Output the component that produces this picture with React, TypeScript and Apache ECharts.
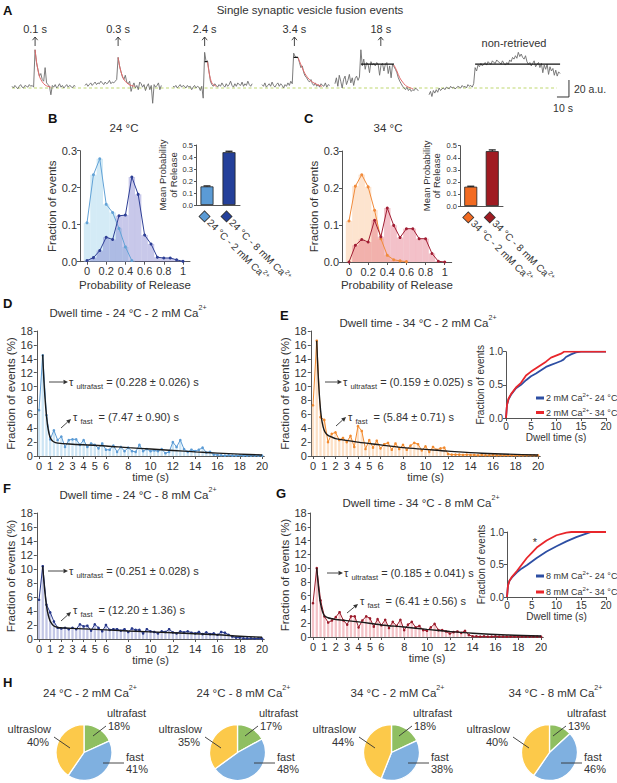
import React, { useEffect, useRef } from "react";
import * as echarts from "echarts";

const FONT = '"Liberation Sans", Arial, Helvetica, sans-serif';
const TXT = "#333333";
const AXC = "#555555";

// ================= Panel A : traces (a.u. relative to baseline) =================
const traceDt = 1.2; // s between samples
const traceStarts = [1.67, 62.5, 135.8, 210, 270.8, 349.2];
const trace1 = [2, 0, 3, 1, -1, 2, 4, 1, 0, 3, 2, 1, 4, 2, 3, 1, 45, 30, 22, 14, 17, 10, 8, 24, 6, 4, 2, -8, 3, 1, 4, 0, 2, 5, 1, 3, 0, 2, 4, 1, 3, 2, 0, 3, 2];
const trace2 = [3, 5, 2, 4, 6, 3, 5, 7, 4, 6, 5, 8, 6, 4, 7, 5, 6, 9, 5, 7, 6, 8, 10, 36, 26, 19, 13, 10, 15, 7, 5, 8, -4, 2, 6, 0, 3, -2, 7, 5, 1, 4, -3, 2, 5, -2, 3, -18, 4, 1, 3, 6, -2, 3];
const trace3 = [2, 1, 3, 0, 2, 4, 1, 3, 2, 0, 3, 1, 2, -2, 1, 3, 0, 2, 1, -3, 2, -12, 42, 31, 32, 20, 8, 4, 2, 5, 3, 1, 4, 2, 6, 3, 1, 5, 2, 4, 8, 3, 1, 5, 2, 6, 4, 3, 7, 2, 5, 3, 8, 4, 2, 5];
const trace4 = [4, 2, 6, 1, 3, 5, 2, 7, 3, 1, 4, 6, 2, 5, 3, 0, 4, 2, 6, 3, 8, 5, 41, 37, 36, 36, 30, 24, 26, 18, 14, 12, 9, 7, 10, 5, 3, 6, 2, 4, 1, 5, 3, 2, 6, 1, 4, 3];
const trace5 = [5, 12, 2, 15, 8, 0, 10, 14, 4, 9, 16, 6, 12, 3, 11, 14, 9, 13, 45, 26, 34, 22, 30, 28, 18, 31, 27, 29, 26, 30, 28, 15, 27, 29, 20, 28, 30, 17, 26, 12, 28, 25, 22, 18, 12, 8, 5, 2, 0, -2, 1, -3, -1, -4, -2, -3, 0, -2, -3];
const trace6 = [-8, -4, -10, -3, -6, -2, -5, 0, -3, -1, 0, -2, 1, 0, -1, 2, 0, 1, -1, 0, 2, 1, 0, 3, 1, 2, 0, 4, 2, 3, 1, 5,
  24, 20, 27, 25, 29, 26, 28, 30, 27, 31, 29, 28, 32, 30, 29, 33, 31, 30, 28, 32, 29, 27, 30, 28,
  33, 31, 36, 34, 38, 35, 42, 37, 40, 36, 34, 38,
  31, 28, 30, 26, 29, 32, 25, 28, 30, 24, 29, 18, 27, 22, 28, 16, 25, 20, 23, 15, 21, 14, 19, 17];
const traces = [trace1, trace2, trace3, trace4, trace5, trace6];
const fitA1 = [[20.9, 45], [22.1, 31], [23.3, 21], [24.5, 14], [25.7, 10], [28.1, 5], [30.5, 2.5], [34, 1]];
const fitA2 = [[90.1, 36], [91.3, 26], [92.5, 19], [93.7, 14], [95, 10], [97.3, 6], [100, 3.5], [104, 2]];
const fitA3 = [[164.6, 31], [165.8, 19], [167, 11], [168.2, 6], [169.4, 4], [172, 2]];
const fitA4 = [[239.9, 36], [242.3, 28], [244.7, 20], [247.1, 14], [249.5, 10], [252, 7], [256, 4], [260, 2]];
const fitA5 = [[320, 27], [322.4, 20], [324.8, 12], [327.2, 7], [329.6, 3], [332, 1], [336, -1]];
const fitsA = [fitA1, fitA2, fitA3, fitA4, fitA5];
const plateausA = [[162.2, 164.6, 31], [236.4, 239.9, 36], [292.4, 320, 28], [387.6, 458.4, 28]];
const eventLabels = ["0.1 s", "0.3 s", "2.4 s", "3.4 s", "18 s"];
const eventTimes = [20.9, 90.1, 162.2, 237, 309];
const nonRetrievedTime = 420;
const baselineSpan = [1.67, 455.8];
const scaleBarT = 465.8;
const scaleBarAU = 20;
const scaleBarS = 10;
const scaleBarY0 = -10.6;

// ================= Panels B / C =================
const probBins = [0, 0.067, 0.133, 0.2, 0.267, 0.333, 0.4, 0.467, 0.533, 0.6, 0.667, 0.733, 0.8, 0.867, 0.933, 1];
const probTicks = [0, 0.2, 0.4, 0.6, 0.8, 1];
const pr24_2 = [0.105, 0.235, 0.278, 0.155, 0.133, 0.09, 0.04, 0.003];
const pr24_8 = [0.003, 0.011, 0.03, 0.066, 0.06, 0.124, 0.126, 0.229, 0.182, 0.072, 0.048, 0.012, 0.01, 0.01, 0.005, 0.001];
const pr34_2 = [0.111, 0.205, 0.236, 0.203, 0.14, 0.063, 0.018, 0.006, 0.003, 0.001];
const pr34_8 = [0, 0.045, 0.061, 0.054, 0.113, 0.068, 0.146, 0.099, 0.066, 0.09, 0.09, 0.063, 0.063, 0.023, 0.002, 0];
const cat24 = ["24 °C - 2 mM Ca2+", "24 °C - 8 mM Ca2+"];
const cat34 = ["34 °C - 2 mM Ca2+", "34 °C - 8 mM Ca2+"];
const meanPr24 = [0.155, 0.44];
const errPr24 = [0.004, 0.008];
const meanPr34 = [0.16, 0.455];
const errPr34 = [0.004, 0.01];

// ================= Panels D–G : dwell time histograms (%) =================
const dwellBin = 1 / 3; // s
const dwellTicks = [0, 1, 2, 3, 4, 5, 6, 8, 10, 12, 14, 16, 18, 20];
const dwellD = [6.6, 14.5, 5.9, 2.4, 3.7, 2.3, 2.8, 1.3, 2.3, 2.4, 2.4, 1.6, 2.3, 1.3, 1.8, 1.6, 1.1, 1.8, 0.9, 0.9, 1.5, 0.6, 1.3, 0.7, 1.2, 0.7, 0.6, 1.6, 0.7, 1.0, 0.7, 0.8, 0.7, 1.0, 0.4, 0.6, 2.0, 1.3, 2.3, 1.0, 0.6, 0.9, 0.7, 0.9, 1.2, 0.5, 0.6, 0.2, 0.15, 0.1, 0.05, 0.1, 0.05, 0.05, 0.1, 0.05, 0.05, 0.05, 0.05, 0.05, 0.05];
const dwellE = [7.3, 16.6, 5.6, 5.2, 2.0, 3.2, 3.4, 2.3, 2.6, 2.0, 2.9, 1.3, 4.3, 3.6, 1.0, 2.3, 1.2, 2.2, 1.1, 1.7, 1.9, 0.9, 1.8, 1.0, 1.6, 0.9, 1.5, 1.9, 1.7, 0.8, 1.4, 0.6, 1.3, 0.9, 1.1, 1.2, 0.3, 0.2, 0.2, 0.2, 0.15, 0.2, 0.15, 0.15, 0.1, 0.15, 0.1, 0.1, 0.15, 0.1, 0.1, 0.1, 0.1, 0.1, 0.1, 0.1, 0.1, 0.1, 0.1, 0.1, 0.1];
const dwellF = [5.6, 10.4, 4.9, 3.8, 2.5, 1.6, 1.5, 1.6, 1.4, 1.6, 1.4, 2.1, 1.8, 1.9, 1.2, 2.1, 1.6, 1.1, 2.0, 1.3, 1.4, 1.4, 1.2, 1.4, 1.0, 1.5, 1.3, 1.3, 0.8, 1.4, 1.1, 1.0, 0.8, 1.1, 1.0, 1.4, 0.95, 0.8, 1.1, 0.95, 1.1, 0.9, 0.8, 1.0, 0.7, 0.95, 0.7, 0.8, 0.6, 1.0, 0.9, 0.6, 0.35, 0.2, 0.2, 0.1, 0.1, 0.1, 0.05, 0.1, 0.05];
const dwellG = [4.9, 10.0, 5.3, 3.0, 2.1, 2.4, 2.9, 3.6, 2.4, 1.8, 3.0, 3.0, 1.4, 2.4, 3.0, 2.7, 1.5, 2.6, 1.7, 2.5, 1.3, 2.2, 1.6, 2.5, 1.0, 1.8, 2.2, 1.4, 1.6, 1.0, 0.9, 1.4, 1.9, 1.0, 1.0, 0.8, 0.5, 0.7, 0.8, 0.6, 0.9, 0.3, 0.1, 0.1, 0.05, 0.1, 0.05, 0.05, 0.1, 0.05, 0.05, 0.05, 0.05, 0.05, 0.05, 0.05, 0.05, 0.05, 0.05, 0.05, 0.05];
const fitD = [[0.33, 14.6], [0.45, 10.5], [0.6, 7], [0.75, 4.6], [0.9, 3.2], [1.05, 2.5], [1.3, 2.05], [1.7, 1.85], [3, 1.7], [6, 1.45], [8, 1.2], [10, 1.0], [12, 0.8], [14, 0.6], [16, 0.42], [18, 0.27], [20, 0.15]];
const fitE = [[0.33, 16.6], [0.45, 12], [0.6, 8], [0.75, 5.5], [0.9, 4.2], [1.05, 3.5], [1.3, 3.0], [1.7, 2.7], [2, 2.5], [4, 2.0], [6, 1.6], [8, 1.2], [10, 0.95], [12, 0.7], [15, 0.4], [20, 0.15]];
const fitF = [[0.33, 10.4], [0.45, 8], [0.6, 5.6], [0.75, 4], [0.9, 3], [1.05, 2.4], [1.3, 1.9], [1.7, 1.65], [2, 1.6], [4, 1.45], [8, 1.15], [12, 0.9], [16, 0.6], [18, 0.4], [20, 0.25]];
const fitG = [[0.33, 10], [0.45, 7.8], [0.6, 5.5], [0.75, 4.2], [0.9, 3.4], [1.05, 3.0], [1.3, 2.8], [1.7, 2.65], [2, 2.55], [4, 2.2], [6, 1.75], [8, 1.45], [10, 1.1], [12, 0.8], [14, 0.55], [17, 0.3], [20, 0.15]];
const tauUltra = [0.228, 0.159, 0.251, 0.185];
const tauUltraErr = [0.026, 0.025, 0.028, 0.041];
const tauFast = [7.47, 5.84, 12.2, 6.41];
const tauFastErr = [0.9, 0.71, 1.36, 0.56];
const dwellTitles = ["Dwell time - 24 °C - 2 mM Ca2+", "Dwell time - 34 °C - 2 mM Ca2+", "Dwell time - 24 °C - 8 mM Ca2+", "Dwell time - 34 °C - 8 mM Ca2+"];

// cumulative insets
const cumE24 = [[0, 0], [0.2, 0.2], [0.5, 0.28], [1, 0.35], [2, 0.45], [3, 0.5], [4, 0.57], [5, 0.63], [6, 0.67], [7, 0.72], [8, 0.77], [9, 0.8], [10, 0.83], [11, 0.86], [11.5, 0.88], [12, 0.92], [13, 0.96], [14, 0.99], [15, 1], [20, 1]];
const cumE34 = [[0, 0], [0.2, 0.2], [0.5, 0.29], [1, 0.36], [2, 0.46], [3, 0.53], [4, 0.64], [5, 0.7], [6, 0.75], [7, 0.8], [8, 0.85], [9, 0.91], [10, 0.94], [11, 0.97], [11.6, 1], [20, 1]];
const cumG24 = [[0, 0], [0.2, 0.18], [0.5, 0.25], [1, 0.3], [2, 0.38], [3, 0.44], [4, 0.49], [6, 0.6], [8, 0.7], [10, 0.78], [12, 0.855], [14, 0.92], [16, 0.975], [17, 1], [20, 1]];
const cumG34 = [[0, 0], [0.2, 0.18], [0.5, 0.25], [1, 0.31], [2, 0.4], [3, 0.5], [4, 0.6], [5, 0.68], [6, 0.76], [8, 0.87], [10, 0.95], [12, 0.99], [13, 1], [20, 1]];
const legE = ["2 mM Ca2+- 24 °C", "2 mM Ca2+- 34 °C"];
const legG = ["8 mM Ca2+- 24 °C", "8 mM Ca2+- 34 °C"];

// ================= Panel H : pies =================
const pieTitles = ["24 °C - 2 mM Ca2+", "24 °C - 8 mM Ca2+", "34 °C - 2 mM Ca2+", "34 °C - 8 mM Ca2+"];
const pieNames = ["ultrafast", "fast", "ultraslow"];
const pieUltrafast = [18, 17, 18, 13];
const pieFast = [41, 48, 38, 46];
const pieUltraslow = [40, 35, 44, 40];

// layout of the pies (pixels)
const pieCx = [84, 237.5, 391.5, 549.5];
const pieCy = 752.5;
const pieR = 28;
const slowR = [51, 202, 356, 510];
const ufL = [107, 259, 413, 567];
const fL = [126, 277, 431, 584];

const supify = (s: string) => s.replace("2+", "{s|2+}");

function buildOption() {
  const G: any[] = [];
  const text = (x: number, y: number, t: string, o: any = {}) =>
    G.push({ type: "text", x, y, silent: true, z: 100, style: { text: t, fill: TXT, fontFamily: FONT, fontSize: 11, align: "left", verticalAlign: "middle", ...o } });
  const supRich = (fs: number) => ({ s: { fontSize: fs * 0.62, fontFamily: FONT, fill: TXT, color: TXT, verticalAlign: "top", lineHeight: fs * 0.72 } });
  const supText = (x: number, y: number, t: string, fs: number, align = "center") =>
    text(x, y, supify(t), { fontSize: fs, align, lineHeight: fs * 1.45, rich: supRich(fs) });
  const line = (x1: number, y1: number, x2: number, y2: number, w = 0.9) =>
    G.push({ type: "line", silent: true, z: 100, shape: { x1, y1, x2, y2 }, style: { stroke: TXT, lineWidth: w } });
  const arrow = (x1: number, y1: number, x2: number, y2: number) => {
    const a = Math.atan2(y2 - y1, x2 - x1);
    const h = 4.5, w = 2.2;
    const bx = x2 - h * Math.cos(a), by = y2 - h * Math.sin(a);
    line(x1, y1, bx, by, 0.9);
    G.push({ type: "polygon", silent: true, z: 100, shape: { points: [[x2, y2], [bx - w * Math.sin(a), by + w * Math.cos(a)], [bx + w * Math.sin(a), by - w * Math.cos(a)]] }, style: { fill: TXT } });
  };
  const upArrow = (x: number, yBottom: number, yTop: number) => {
    line(x, yBottom, x, yTop, 0.9);
    G.push({ type: "polyline", silent: true, z: 100, shape: { points: [[x - 2.6, yTop + 3.2], [x, yTop], [x + 2.6, yTop + 3.2]] }, style: { stroke: TXT, lineWidth: 0.9, fill: null } });
  };
  const letter = (x: number, y: number, t: string) => text(x, y, t, { fontSize: 13, fontWeight: "bold", fill: "#111" });

  // ----- grids -----
  const grids = [
    { left: 10, top: 35, width: 570, height: 80 }, // 0 A
    { left: 80, top: 150.7, width: 110, height: 111 }, // 1 B
    { left: 196, top: 145, width: 44, height: 60 }, // 2 B inset
    { left: 342, top: 151, width: 109.7, height: 111 }, // 3 C
    { left: 460, top: 145.7, width: 43, height: 60.3 }, // 4 C inset
    { left: 36.8, top: 331, width: 227.5, height: 125 }, // 5 D
    { left: 310.75, top: 331, width: 229.5, height: 125 }, // 6 E
    { left: 506, top: 351.7, width: 100, height: 66.3 }, // 7 E inset
    { left: 36.8, top: 513, width: 227.5, height: 126 }, // 8 F
    { left: 310.7, top: 513, width: 232.6, height: 124 }, // 9 G
    { left: 507, top: 532, width: 99, height: 65 }, // 10 G inset
  ];
  const aLine = { show: true, onZero: false, lineStyle: { color: AXC, width: 1 } };
  const aTick = { show: true, length: 3, lineStyle: { color: AXC, width: 1 } };
  const lab = (fs: number, extra: any = {}) => ({ color: TXT, fontFamily: FONT, fontSize: fs, ...extra });
  const nameStyle = (fs: number) => ({ color: TXT, fontFamily: FONT, fontSize: fs });

  const xAxis: any[] = [];
  const yAxis: any[] = [];
  // A
  xAxis.push({ gridIndex: 0, type: "value", min: 0, max: 475, show: false });
  yAxis.push({ gridIndex: 0, type: "value", min: -31.8, max: 62.4, show: false });
  // B, C main
  const probX = (gi: number) => ({
    gridIndex: gi, type: "value", min: -0.073, max: 1.073, splitLine: { show: false }, axisLine: aLine,
    axisTick: { ...aTick, customValues: probTicks },
    axisLabel: lab(11, { margin: 4, customValues: probTicks, formatter: (v: number) => (v === 0 || v === 1 ? String(v) : v.toFixed(1)) }),
    name: "Probability of Release", nameLocation: "middle", nameGap: 17, nameTextStyle: nameStyle(11.5),
  });
  const probY = (gi: number, gap: number) => ({
    gridIndex: gi, type: "value", min: 0, max: 0.3, interval: 0.1, splitLine: { show: false }, axisLine: aLine, axisTick: aTick,
    axisLabel: lab(11, { margin: 3, formatter: (v: number) => v.toFixed(1) }),
    name: "Fraction of events", nameLocation: "middle", nameGap: gap, nameTextStyle: nameStyle(11.5),
  });
  const insetCatX = (gi: number, cats: string[], colors: string[]) => ({
    gridIndex: gi, type: "category", data: cats, axisLine: aLine, axisTick: { show: false },
    axisLabel: {
      interval: 0, rotate: -45, margin: 4, align: "left", verticalAlign: "top", color: TXT, fontFamily: FONT, fontSize: 10, lineHeight: 14,
      formatter: (v: string, i: number) => `{d${i}|}{t| ${v.replace("2+", "")}}{s|2+}`,
      rich: {
        d0: { width: 7, height: 7, backgroundColor: colors[0], borderColor: "#333", borderWidth: 0.8 },
        d1: { width: 7, height: 7, backgroundColor: colors[1], borderColor: "#333", borderWidth: 0.8 },
        t: { fontSize: 10, fontFamily: FONT, color: TXT, lineHeight: 14 },
        s: { fontSize: 6.5, fontFamily: FONT, color: TXT, verticalAlign: "top", lineHeight: 7 },
      },
    },
  });
  const insetBarY = (gi: number, gap: number) => ({
    gridIndex: gi, type: "value", min: 0, max: 0.5, interval: 0.1, splitLine: { show: false }, axisLine: aLine, axisTick: { ...aTick, length: 2 },
    axisLabel: lab(7.5, { margin: 3, formatter: (v: number) => v.toFixed(1) }),
    name: "Mean Probability\nof Release", nameLocation: "middle", nameGap: gap, nameTextStyle: { ...nameStyle(9.5), lineHeight: 10.5 },
  });
  const col24 = ["#5b9bd5", "#24409a"];
  const col34 = ["#f26b22", "#a01b22"];
  xAxis.push(probX(1)); yAxis.push(probY(1, 21));
  xAxis.push(insetCatX(2, cat24, col24)); yAxis.push(insetBarY(2, 17));
  xAxis.push(probX(3)); yAxis.push(probY(3, 19));
  xAxis.push(insetCatX(4, cat34, col34)); yAxis.push(insetBarY(4, 18));
  // dwell
  const dwellX = (gi: number, gap: number) => ({
    gridIndex: gi, type: "value", min: -0.2, max: 20.2, splitLine: { show: false }, axisLine: aLine,
    axisTick: { ...aTick, customValues: dwellTicks },
    axisLabel: lab(11, { margin: 4, customValues: dwellTicks }),
    name: "time (s)", nameLocation: "middle", nameGap: gap, nameTextStyle: nameStyle(11),
  });
  const dwellY = (gi: number, gap: number) => ({
    gridIndex: gi, type: "value", min: 0, max: 18, interval: 2, splitLine: { show: false }, axisLine: aLine, axisTick: aTick,
    axisLabel: lab(11, { margin: 4 }),
    name: "Fraction of events (%)", nameLocation: "middle", nameGap: gap, nameTextStyle: nameStyle(11.5),
  });
  const cumX = (gi: number) => ({
    gridIndex: gi, type: "value", min: 0, max: 20, interval: 5, splitLine: { show: false }, axisLine: aLine, axisTick: aTick,
    axisLabel: lab(10, { margin: 3 }),
    name: "Dwell time (s)", nameLocation: "middle", nameGap: 14, nameTextStyle: nameStyle(10),
  });
  const cumY = (gi: number) => ({
    gridIndex: gi, type: "value", min: 0, max: 1, interval: 0.5, splitLine: { show: false }, axisLine: aLine, axisTick: aTick,
    axisLabel: lab(10, { margin: 3, formatter: (v: number) => v.toFixed(1) }),
    name: "Fraction of events", nameLocation: "middle", nameGap: 19, nameTextStyle: nameStyle(10),
  });
  xAxis.push(dwellX(5, 13)); yAxis.push(dwellY(5, 17));
  xAxis.push(dwellX(6, 13)); yAxis.push(dwellY(6, 18));
  xAxis.push(cumX(7)); yAxis.push(cumY(7));
  xAxis.push(dwellX(8, 13)); yAxis.push(dwellY(8, 17));
  xAxis.push(dwellX(9, 13)); yAxis.push(dwellY(9, 18));
  xAxis.push(cumX(10)); yAxis.push(cumY(10));

  // ----- series -----
  const series: any[] = [];
  const onGrid = (gi: number) => ({ xAxisIndex: gi, yAxisIndex: gi });

  // A
  series.push({ type: "line", ...onGrid(0), data: [[baselineSpan[0], 0], [baselineSpan[1], 0]], symbol: "none", silent: true, z: 1, lineStyle: { color: "#bfd870", width: 1.2, type: [3, 2.5] } });
  traces.forEach((tr, k) => series.push({ type: "line", ...onGrid(0), data: tr.map((v, i) => [traceStarts[k] + i * traceDt, v]), symbol: "none", silent: true, lineStyle: { color: "#6d6d6d", width: 0.9 } }));
  fitsA.forEach((f) => series.push({ type: "line", ...onGrid(0), data: f, smooth: 0.4, symbol: "none", silent: true, z: 3, lineStyle: { color: "#e46b6b", width: 1 } }));
  plateausA.forEach((p) => series.push({ type: "line", ...onGrid(0), data: [[p[0], p[2]], [p[1], p[2]]], symbol: "none", silent: true, z: 4, lineStyle: { color: "#111", width: 1.2 } }));
  series.push({ type: "line", ...onGrid(0), data: [[scaleBarT - scaleBarS, scaleBarY0], [scaleBarT, scaleBarY0], [scaleBarT, scaleBarY0 + scaleBarAU]], symbol: "none", silent: true, lineStyle: { color: "#333", width: 1 } });

  // B / C histograms
  const histo = (gi: number, vals: number[], fill: string, lineCol: string, z: number) => {
    const d = vals.map((v, i) => [probBins[i], v]);
    series.push({ type: "bar", ...onGrid(gi), data: d, barWidth: 6.4, barGap: "-100%", silent: true, itemStyle: { color: fill }, z: 1 });
    series.push({ type: "line", ...onGrid(gi), data: d, symbol: "circle", symbolSize: 3, silent: true, z, lineStyle: { color: lineCol, width: 1 }, itemStyle: { color: lineCol } });
  };
  histo(1, pr24_2, "rgba(160,210,235,0.45)", "#62a2d6", 3);
  histo(1, pr24_8, "rgba(110,110,200,0.38)", "#2e3f95", 4);
  histo(3, pr34_2, "rgba(250,190,140,0.42)", "#f08a3a", 3);
  histo(3, pr34_8, "rgba(225,100,120,0.4)", "#a01d33", 4);

  const meanBars = (gi: number, means: number[], errs: number[], colors: string[]) => {
    series.push({ type: "bar", ...onGrid(gi), barWidth: 13, silent: true, data: means.map((v, i) => ({ value: v, itemStyle: { color: colors[i], borderColor: "#222", borderWidth: 0.8 } })) });
    series.push({
      type: "custom", ...onGrid(gi), silent: true, z: 5, data: means.map((v, i) => [i, v, errs[i]]),
      renderItem: (params: any, api: any) => {
        const x = api.value(0), m = api.value(1), e = api.value(2);
        const p0 = api.coord([x, m]);
        const p1 = api.coord([x, m + e]);
        return {
          type: "group", children: [
            { type: "line", shape: { x1: p0[0], y1: p0[1], x2: p1[0], y2: p1[1] }, style: { stroke: "#111", lineWidth: 1 } },
            { type: "line", shape: { x1: p1[0] - 3.5, y1: p1[1], x2: p1[0] + 3.5, y2: p1[1] }, style: { stroke: "#111", lineWidth: 1.2 } },
          ],
        };
      },
    });
  };
  meanBars(2, meanPr24, errPr24, col24);
  meanBars(4, meanPr34, errPr34, col34);

  // dwell histograms
  const dwell = (gi: number, vals: number[], fit: number[][], barCol: string, lineCol: string) => {
    const d = vals.map((v, i) => [i * dwellBin, v]);
    series.push({ type: "bar", ...onGrid(gi), data: d, barWidth: 2.3, silent: true, itemStyle: { color: barCol }, z: 1 });
    series.push({ type: "line", ...onGrid(gi), data: d, symbol: "circle", symbolSize: 2.6, silent: true, z: 2, lineStyle: { color: lineCol, width: 1 }, itemStyle: { color: lineCol } });
    series.push({ type: "line", ...onGrid(gi), data: fit, smooth: 0.35, symbol: "none", silent: true, z: 3, lineStyle: { color: "#1a1a1a", width: 1.4 } });
  };
  dwell(5, dwellD, fitD, "#cde5f4", "#5b9bd5");
  dwell(6, dwellE, fitE, "#fde0c6", "#f28a2e");
  dwell(8, dwellF, fitF, "#c3c7e6", "#26378a");
  dwell(9, dwellG, fitG, "#f4c3c8", "#9b1b2b");

  const cum = (gi: number, name: string, data: number[][], col: string) =>
    series.push({ type: "line", ...onGrid(gi), name, data, symbol: "none", silent: true, lineStyle: { color: col, width: 1.8 }, itemStyle: { color: col } });
  cum(7, legE[0], cumE24, "#2d4ea3");
  cum(7, legE[1], cumE34, "#e8262b");
  cum(10, legG[0], cumG24, "#2d4ea3");
  cum(10, legG[1], cumG34, "#e8262b");

  // pies
  const pieColors = ["#8fbf61", "#7fb0e0", "#fcc94a"];
  pieTitles.forEach((_, i) => {
    const vals = [pieUltrafast[i], pieFast[i], pieUltraslow[i]];
    series.push({
      type: "pie", center: [pieCx[i], pieCy], radius: pieR, startAngle: 90, clockwise: true, silent: true,
      label: { show: false }, labelLine: { show: false },
      itemStyle: { borderColor: "#fff", borderWidth: 1.3 },
      data: vals.map((v, k) => ({ value: v, name: pieNames[k], itemStyle: { color: pieColors[k] } })),
    });
  });

  // ----- texts -----
  const ax = (t: number) => 10 + (t * 570) / 475;
  letter(3, 10, "A");
  text(310, 10, "Single synaptic vesicle fusion events", { align: "center", fontSize: 11.5 });
  eventLabels.forEach((l, i) => {
    text(ax(eventTimes[i]), 29, l, { align: "center", fontSize: 11 });
    upArrow(ax(eventTimes[i]), 46, 37);
  });
  text(ax(nonRetrievedTime), 43, "non-retrieved", { align: "center", fontSize: 11 });
  text(ax(scaleBarT) + 5, 89, `${scaleBarAU} a.u.`, { fontSize: 10.5 });
  text(ax(scaleBarT - scaleBarS / 2), 108, `${scaleBarS} s`, { align: "center", fontSize: 10.5 });

  letter(48, 118, "B");
  text(124, 128, "24 °C", { align: "center", fontSize: 11.5 });
  letter(304, 118, "C");
  text(388, 128, "34 °C", { align: "center", fontSize: 11.5 });

  letter(3, 303, "D");
  letter(280, 315, "E");
  letter(3, 488, "F");
  letter(276, 493, "G");
  letter(3, 682, "H");
  const dTitlePos = [[128, 313], [418, 323], [138, 495], [421, 503]];
  dwellTitles.forEach((t, i) => supText(dTitlePos[i][0], dTitlePos[i][1], t, 11.5));

  // tau annotations
  const tauPos = [
    { ua: [49, 68, 382], ut: 69, fa: [61, 428, 71, 419], ft: [73, 417] },
    { ua: [325, 342, 382], ut: 343, fa: [336, 426, 346, 417], ft: [348, 417] },
    { ua: [48, 68, 571], ut: 69, fa: [61, 621, 71, 612], ft: [73, 610] },
    { ua: [327, 343, 573], ut: 344, fa: [347, 613, 358, 604], ft: [360, 601] },
  ];
  const subRich = { sub: { fontSize: 7.5, fontFamily: FONT, fill: TXT, color: TXT, verticalAlign: "bottom", lineHeight: 9 } };
  tauPos.forEach((p, i) => {
    arrow(p.ua[0], p.ua[2], p.ua[1], p.ua[2]);
    text(p.ut, p.ua[2], `τ {sub|ultrafast} = (${tauUltra[i].toFixed(3)} ± ${tauUltraErr[i].toFixed(3)}) s`, { fontSize: 11, lineHeight: 16, rich: subRich });
    arrow(p.fa[0], p.fa[1], p.fa[2], p.fa[3]);
    text(p.ft[0], p.ft[1], `τ {sub|fast}  = (${tauFast[i].toFixed(2)} ± ${tauFastErr[i].toFixed(2)}) s`, { fontSize: 11, lineHeight: 16, rich: subRich });
  });
  text(535, 542, "*", { align: "center", fontSize: 11 });

  // pies
  pieTitles.forEach((t, i) => {
    supText(pieCx[i] + 6, 693, t, 11.5);
    text(slowR[i], 729, "ultraslow", { align: "right" });
    text(slowR[i] - 2, 742, `${pieUltraslow[i]}%`, { align: "right" });
    line(slowR[i] + 3, 737, slowR[i] + 19, 748);
    text(ufL[i], 713, "ultrafast");
    text(ufL[i] + 1, 726, `${pieUltrafast[i]}%`);
    line(ufL[i] - 1, 726, ufL[i] - 14, 736);
    text(fL[i], 757, "fast");
    text(fL[i], 769, `${pieFast[i]}%`);
    line(fL[i] - 2, 763, fL[i] - 23, 763);
  });

  const legend = (names: string[], top: number, gap: number) => ({
    data: names, left: 531, top, orient: "vertical", itemWidth: 8, itemHeight: 3, itemGap: gap, icon: "rect", selectedMode: false,
    formatter: (n: string) => supify(n),
    textStyle: { color: TXT, fontFamily: FONT, fontSize: 9, lineHeight: 12, padding: [0, 0, 0, -3], rich: { s: { fontSize: 6, fontFamily: FONT, color: TXT, verticalAlign: "top", lineHeight: 7 } } },
  });

  return {
    animation: false,
    backgroundColor: "#ffffff",
    grid: grids.map((g) => ({ ...g, containLabel: false })),
    xAxis, yAxis, series,
    legend: [legend(legE, 387, 2.5), legend(legG, 565, 4)],
    graphic: { elements: G },
  };
}

export default function App() {
  const ref = useRef<HTMLDivElement>(null);
  useEffect(() => {
    if (!ref.current) return;
    const chart = echarts.init(ref.current, undefined, { renderer: "svg" });
    chart.setOption(buildOption() as any);
    return () => chart.dispose();
  }, []);
  return <div ref={ref} style={{ position: "absolute", left: 0, top: 0, width: 617, height: 783, background: "#fff" }} />;
}
